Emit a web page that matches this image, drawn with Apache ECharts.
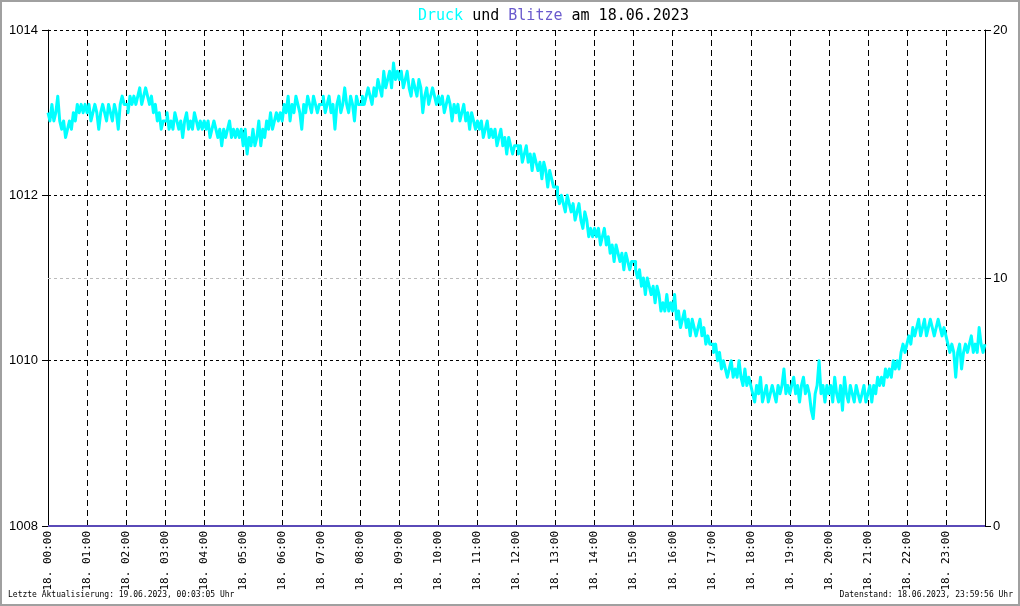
<!DOCTYPE html>
<html><head><meta charset="utf-8">
<script src="https://cdn.jsdelivr.net/npm/echarts@6/dist/echarts.min.js"></script>
<style>html,body{margin:0;padding:0;background:#fff}#c{width:1020px;height:606px}</style>
</head><body><div id="c"></div>
<script>
// tick labels
const hourLabels = ['18. 00:00','18. 01:00','18. 02:00','18. 03:00','18. 04:00','18. 05:00','18. 06:00','18. 07:00',
  '18. 08:00','18. 09:00','18. 10:00','18. 11:00','18. 12:00','18. 13:00','18. 14:00','18. 15:00',
  '18. 16:00','18. 17:00','18. 18:00','18. 19:00','18. 20:00','18. 21:00','18. 22:00','18. 23:00'];
const leftTicks = [1008, 1010, 1012, 1014];
const rightTicks = [0, 10, 20];

// Druck (hPa), one reading every 3 minutes starting 00:00
const druckStepMin = 3;
const druck = [
  1013.0,1012.9,1013.1,1012.9,1013.0,1013.2,1012.9,1012.8,1012.9,1012.7,1012.8,1012.9,1012.8,1013.0,1012.9,1013.1,1013.0,1013.1,1013.0,1013.1, // 00
  1013.0,1013.1,1012.9,1013.0,1013.1,1013.0,1012.8,1013.0,1013.1,1013.0,1012.9,1013.1,1013.0,1012.9,1013.1,1013.0,1012.8,1013.1,1013.2,1013.1, // 01
  1013.1,1013.0,1013.2,1013.1,1013.2,1013.1,1013.2,1013.3,1013.1,1013.2,1013.3,1013.2,1013.1,1013.2,1013.0,1013.1,1012.9,1013.0,1012.8,1012.9, // 02
  1012.9,1013.0,1012.8,1012.9,1012.8,1013.0,1012.9,1012.8,1012.9,1012.7,1012.9,1013.0,1012.8,1012.9,1012.8,1013.0,1012.9,1012.8,1012.9,1012.8, // 03
  1012.9,1012.8,1012.9,1012.7,1012.8,1012.9,1012.8,1012.7,1012.8,1012.6,1012.8,1012.7,1012.8,1012.9,1012.7,1012.8,1012.7,1012.8,1012.7,1012.8, // 04
  1012.6,1012.8,1012.5,1012.7,1012.6,1012.8,1012.6,1012.7,1012.9,1012.6,1012.8,1012.7,1012.9,1012.8,1013.0,1012.8,1012.9,1013.0,1012.9,1013.0, // 05
  1012.9,1013.1,1013.0,1013.2,1012.9,1013.1,1013.0,1013.2,1013.1,1013.0,1012.8,1013.1,1013.0,1013.2,1013.1,1013.0,1013.2,1013.1,1013.0,1013.1, // 06
  1013.1,1013.2,1013.0,1013.1,1013.2,1013.0,1013.1,1012.8,1013.1,1013.2,1013.0,1013.1,1013.3,1013.1,1013.0,1013.2,1013.1,1012.9,1013.2,1013.1, // 07
  1013.1,1013.2,1013.1,1013.2,1013.3,1013.2,1013.1,1013.3,1013.2,1013.4,1013.3,1013.2,1013.5,1013.3,1013.4,1013.5,1013.3,1013.6,1013.4,1013.5, // 08
  1013.4,1013.5,1013.3,1013.4,1013.5,1013.3,1013.2,1013.4,1013.3,1013.2,1013.4,1013.3,1013.0,1013.2,1013.3,1013.1,1013.2,1013.3,1013.2,1013.1, // 09
  1013.2,1013.1,1013.2,1013.0,1013.1,1013.2,1013.1,1012.9,1013.1,1013.0,1013.1,1012.9,1013.0,1013.1,1012.9,1013.0,1012.8,1013.0,1012.9,1012.8, // 10
  1012.9,1012.8,1012.9,1012.7,1012.8,1012.9,1012.7,1012.8,1012.7,1012.8,1012.6,1012.7,1012.8,1012.6,1012.7,1012.5,1012.7,1012.6,1012.5,1012.6, // 11
  1012.6,1012.5,1012.6,1012.4,1012.5,1012.6,1012.4,1012.5,1012.3,1012.5,1012.4,1012.3,1012.4,1012.2,1012.4,1012.3,1012.1,1012.3,1012.2,1012.1, // 12
  1012.1,1012.0,1011.9,1012.0,1011.9,1011.8,1012.0,1011.9,1011.8,1011.9,1011.7,1011.8,1011.9,1011.7,1011.6,1011.8,1011.7,1011.5,1011.6,1011.5, // 13
  1011.6,1011.5,1011.6,1011.4,1011.5,1011.6,1011.4,1011.5,1011.3,1011.4,1011.2,1011.4,1011.3,1011.2,1011.3,1011.1,1011.3,1011.2,1011.1,1011.2, // 14
  1011.2,1011.1,1011.0,1011.1,1010.9,1011.0,1010.8,1011.0,1010.9,1010.8,1010.9,1010.7,1010.9,1010.8,1010.6,1010.7,1010.6,1010.8,1010.6,1010.7, // 15
  1010.6,1010.8,1010.5,1010.6,1010.4,1010.5,1010.6,1010.4,1010.5,1010.3,1010.5,1010.4,1010.3,1010.4,1010.5,1010.3,1010.4,1010.2,1010.3,1010.2, // 16
  1010.2,1010.1,1010.2,1010.0,1010.1,1009.9,1010.0,1009.9,1009.8,1009.9,1010.0,1009.8,1009.9,1009.8,1010.0,1009.8,1009.7,1009.9,1009.7,1009.8, // 17
  1009.7,1009.6,1009.5,1009.7,1009.6,1009.8,1009.5,1009.6,1009.7,1009.5,1009.6,1009.7,1009.6,1009.5,1009.7,1009.6,1009.7,1009.9,1009.6,1009.7, // 18
  1009.6,1009.7,1009.8,1009.6,1009.7,1009.5,1009.7,1009.8,1009.6,1009.7,1009.6,1009.4,1009.3,1009.6,1009.7,1010.0,1009.6,1009.7,1009.5,1009.7, // 19
  1009.6,1009.7,1009.5,1009.8,1009.6,1009.5,1009.7,1009.4,1009.8,1009.6,1009.5,1009.7,1009.6,1009.5,1009.7,1009.6,1009.5,1009.6,1009.7,1009.5, // 20
  1009.6,1009.7,1009.5,1009.7,1009.6,1009.8,1009.7,1009.8,1009.7,1009.9,1009.8,1009.9,1009.8,1010.0,1009.9,1010.0,1009.9,1010.1,1010.2,1010.1, // 21
  1010.2,1010.3,1010.2,1010.4,1010.3,1010.4,1010.5,1010.3,1010.4,1010.5,1010.3,1010.4,1010.5,1010.4,1010.3,1010.4,1010.5,1010.4,1010.3,1010.4, // 22
  1010.3,1010.2,1010.1,1010.2,1010.1,1009.8,1010.1,1010.2,1009.9,1010.1,1010.2,1010.1,1010.2,1010.3,1010.1,1010.2,1010.1,1010.4,1010.2,1010.1, // 23
  1010.2
];
// Blitze (count), hourly, all zero
const blitze = [0,0,0,0,0,0,0,0,0,0,0,0,0,0,0,0,0,0,0,0,0,0,0,0,0];

const druckData = druck.map((v, i) => [Math.min(i * druckStepMin, 1439.9), v]);
const blitzeData = blitze.map((v, i) => [i * 60, v]);

const chart = echarts.init(document.getElementById('c'), null, {renderer: 'canvas'});
const mono = 'DejaVu Sans Mono';
chart.setOption({
  animation: false,
  backgroundColor: '#fff',
  title: {
    text: '{d|Druck} und {b|Blitze} am 18.06.2023',
    left: 413, top: 4,
    textStyle: {fontFamily: mono, fontSize: 15, fontWeight: 'normal', color: '#000',
      rich: {d: {fontFamily: mono, fontSize: 15, color: '#00ffff'}, b: {fontFamily: mono, fontSize: 15, color: '#6a5acd'}}}
  },
  grid: {left: 48, right: 35, top: 30, bottom: 80},
  xAxis: {
    type: 'value', min: 0, max: 1440, interval: 60,
    axisLine: {show: true, lineStyle: {color: '#000', width: 1}},
    axisTick: {show: false},
    axisLabel: {rotate: 90, margin: 5, fontFamily: mono, fontSize: 11, color: '#000',
      formatter: v => (v < 1440 ? hourLabels[Math.round(v / 60)] : '')},
    splitLine: {show: true, lineStyle: {color: '#000', type: [6, 4], width: 1}}
  },
  yAxis: [{
    type: 'value', min: leftTicks[0], max: leftTicks[leftTicks.length - 1], interval: leftTicks[1] - leftTicks[0],
    axisLine: {show: true, lineStyle: {color: '#000', width: 1}},
    axisTick: {show: true, length: 6, lineStyle: {color: '#000'}},
    axisLabel: {margin: 10, fontFamily: 'Liberation Sans', fontSize: 13, color: '#000', formatter: v => String(v)},
    splitLine: {show: true, lineStyle: {color: '#000', type: [3, 3], width: 1}}
  }, {
    type: 'value', min: rightTicks[0], max: rightTicks[rightTicks.length - 1], interval: rightTicks[1] - rightTicks[0],
    position: 'right',
    axisLine: {show: true, lineStyle: {color: '#000', width: 1}},
    axisTick: {show: true, length: 6, lineStyle: {color: '#000'}},
    axisLabel: {margin: 8, fontFamily: 'Liberation Sans', fontSize: 13, color: '#000', formatter: v => String(v)},
    splitLine: {show: false}
  }],
  series: [{
    name: 'Druck', type: 'line', step: 'end', showSymbol: false, symbol: 'none',
    data: druckData, lineStyle: {color: '#00ffff', width: 3, join: 'round'}, z: 3
  }, {
    name: 'Blitze', type: 'line', yAxisIndex: 1, showSymbol: false, symbol: 'none',
    data: blitzeData, lineStyle: {color: '#5a4ab8', width: 2}, z: 4,
    markLine: {silent: true, symbol: 'none', label: {show: false}, z: 1,
      lineStyle: {color: '#bbbbbb', type: [3, 3], width: 1},
      data: [{yAxis: rightTicks[1]}]}
  }],
  graphic: [
    {type: 'rect', shape: {x: 1, y: 1, width: 1018, height: 604}, style: {fill: 'none', stroke: '#a0a0a0', lineWidth: 2}, z: 100},
    {type: 'text', left: 8, top: 591, style: {text: 'Letzte Aktualisierung: 19.06.2023, 00:03:05 Uhr', font: '8px "DejaVu Sans Mono"', fill: '#000'}},
    {type: 'text', right: 7, top: 591, style: {text: 'Datenstand: 18.06.2023, 23:59:56 Uhr', font: '8px "DejaVu Sans Mono"', fill: '#000'}}
  ]
});
</script>
</body></html>
